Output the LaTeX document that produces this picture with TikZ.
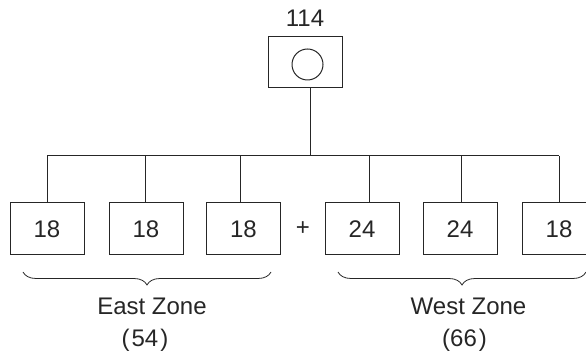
\documentclass[tikz,border=0pt]{standalone}
\usepackage{fontspec}
\setmainfont{Liberation Sans}
\usetikzlibrary{decorations.pathreplacing}
\begin{document}
\begin{tikzpicture}[x=1pt,y=-1pt,
  line width=1pt, draw=black!85, text=black!85,
  every node/.style={font=\fontsize{24}{28}\selectfont, inner sep=0pt},
  unit/.style={draw, minimum width=74pt, minimum height=52pt},
  zone/.style={decorate, decoration={brace, mirror, amplitude=13pt}, line width=0.8pt},
  label/.style={anchor=base}]
\clip (0,0) rectangle (586,352);

% top unit
\node[label] (total) at (305,27) {114};
\node[draw, minimum width=74pt, minimum height=51pt] (top) at (305,62.5) {};
\node[draw, circle, minimum size=31pt] (dial) at (307.5,64.5) {};

% bottom units
\node[unit] (b1) at (47,229) {18};
\node[unit] (b2) at (146,229) {18};
\node[unit] (b3) at (243.5,229) {18};
\node[unit] (b4) at (362,229) {24};
\node[unit] (b5) at (460,229) {24};
\node[unit] (b6) at (559,229) {18};
\node (plus) at (303,229) {+};

% distribution bus
\coordinate (busL) at (47,156);
\coordinate (busR) at (559,156);
\draw (busL) -- (busR);
\draw ([xshift=5pt]top.south) -- ([xshift=5pt]top.south |- busL);
\draw (b1.north) -- (b1.north |- busL);
\draw ([xshift=-1pt]b2.north) -- ([xshift=-1pt]b2.north |- busL);
\draw ([xshift=-3.5pt]b3.north) -- ([xshift=-3.5pt]b3.north |- busL);
\draw ([xshift=7pt]b4.north) -- ([xshift=7pt]b4.north |- busL);
\draw ([xshift=1pt]b5.north) -- ([xshift=1pt]b5.north |- busL);
\draw (b6.north) -- (b6.north |- busL);

% zone braces and captions
\coordinate (eL) at (23,272);
\coordinate (eR) at (271,272);
\coordinate (wL) at (338,272);
\coordinate (wR) at (586,272);
\draw[zone] (eL) -- (eR);
\draw[zone] (wL) -- (wR);
\node[label] (east) at (152,315) {East Zone};
\node[label] (eastn) at (145,347) {(\kern2pt54\kern2pt)};
\node[label] (west) at (468.5,315) {West Zone};
\node[label] (westn) at (464.5,347) {(66\kern2pt)};
\end{tikzpicture}
\end{document}
